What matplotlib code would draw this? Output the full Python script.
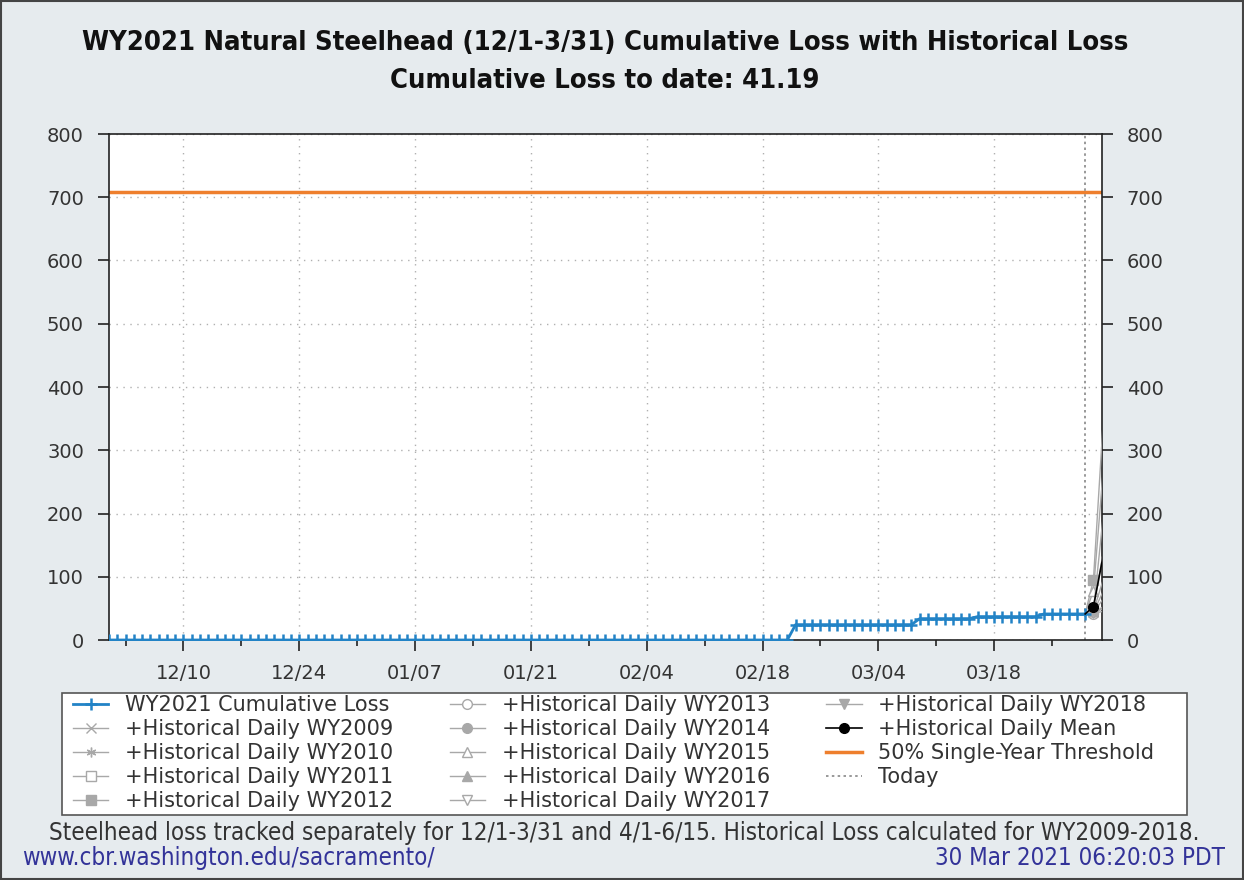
import numpy as np
import pandas as pd
import matplotlib
matplotlib.use('Agg')
import matplotlib.pyplot as plt
import matplotlib.dates as mdates

# WY2021 cumulative loss, daily 12/1 - 3/29
dates = pd.date_range('2020-12-01', '2021-03-29')
loss_2021 = [0, 0, 0, 0, 0, 0, 0, 0, 0, 0,
             0, 0, 0, 0, 0, 0, 0, 0, 0, 0,
             0, 0, 0, 0, 0, 0, 0, 0, 0, 0,
             0, 0, 0, 0, 0, 0, 0, 0, 0, 0,
             0, 0, 0, 0, 0, 0, 0, 0, 0, 0,
             0, 0, 0, 0, 0, 0, 0, 0, 0, 0,
             0, 0, 0, 0, 0, 0, 0, 0, 0, 0,
             0, 0, 0, 0, 0, 0, 0, 0, 0, 0,
             0, 0, 0,
             24.3, 24.3, 24.3, 24.3, 24.3, 24.3, 24.3, 24.3, 24.3, 24.3,
             24.3, 24.3, 24.3, 24.3, 24.3,
             33.8, 33.8, 33.8, 33.8, 33.8, 33.8, 33.8,
             37.0, 37.0, 37.0, 37.0, 37.0, 37.0, 37.0, 37.0,
             41.19, 41.19, 41.19, 41.19, 41.19, 41.19]

# cumulative loss to date + historical daily loss (runs past the right edge)
hist_dates = pd.to_datetime(['2021-03-29', '2021-03-30', '2021-04-01'])
hist_years = ['2009', '2010', '2011', '2012', '2013', '2014', '2015', '2016', '2017', '2018']
hist_markers = ['x', (6, 2, 0), 's', 's', 'o', 'o', '^', '^', 'v', 'v']
hist_filled = [True, True, False, True, False, True, False, True, False, True]
hist_values = [
    [41.19, 44.0, 100.0],
    [41.19, 42.5, 55.0],
    [41.19, 49.0, 200.0],
    [41.19, 95.0, 520.0],
    [41.19, 41.8, 48.0],
    [41.19, 43.5, 80.0],
    [41.19, 78.0, 400.0],
    [41.19, 45.5, 130.0],
    [41.19, 42.3, 60.0],
    [41.19, 46.0, 300.0],
]
hist_mean = [41.19, 52.8, 189.3]

threshold = 708
today = pd.Timestamp('2021-03-29')

bg = '#e6ebee'
gray = '#a8a8a8'
blue = '#2283c6'
orange = '#ee7f2d'
txt = '#333333'

fig = plt.figure(figsize=(12.44, 8.8), dpi=100, facecolor=bg)
ax = fig.add_axes([109 / 1244, 1 - 640 / 880, (1101.7 - 109) / 1244, (640 - 134) / 880])
ax.set_facecolor('white')

handles = []
h, = ax.plot(dates, loss_2021, color=blue, marker='+', markersize=9, markeredgewidth=1.8,
             linewidth=2, label='WY2021 Cumulative Loss', zorder=4)
handles.append(h)
for yr, mk, filled, vals in zip(hist_years, hist_markers, hist_filled, hist_values):
    h, = ax.plot(hist_dates, vals, color=gray, marker=mk, markersize=7, linewidth=1,
                 markerfacecolor=gray if filled else 'white', markeredgecolor=gray,
                 markevery=[1], label='+Historical Daily WY' + yr, zorder=3)
    handles.append(h)
h, = ax.plot(hist_dates, hist_mean, color='black', marker='o', markersize=7, linewidth=1.2,
             markevery=[1], label='+Historical Daily Mean', zorder=5)
handles.append(h)
h = ax.axhline(threshold, color=orange, linewidth=2.5, label='50% Single-Year Threshold', zorder=2)
handles.append(h)
h = ax.axvline(today, color='#888888', linestyle=(0, (1.5, 2)), linewidth=1.2, label='Today', zorder=2)
handles.append(h)

ax.set_xlim(pd.Timestamp('2020-12-01'), pd.Timestamp('2021-03-31'))
ax.set_ylim(0, 800)
ax.set_yticks(np.arange(0, 801, 100))
major = pd.date_range('2020-12-10', '2021-03-31', freq='14D')
minor = pd.date_range('2020-12-03', '2021-03-31', freq='14D')
ax.set_xticks(major)
ax.set_xticks(minor, minor=True)
ax.xaxis.set_major_formatter(mdates.DateFormatter('%m/%d'))
ax.tick_params(axis='both', which='major', direction='out', length=8, width=1.2,
               labelsize=14, labelcolor=txt, color='#222222')
ax.tick_params(axis='x', which='minor', direction='out', length=4, width=1.2, color='#222222')
ax.tick_params(axis='y', right=True, labelright=True, pad=10)
ax.tick_params(axis='x', pad=9)
ax.grid(True, which='major', linestyle=(0, (1, 4)), color='#b0b0b0', linewidth=1)
for s in ax.spines.values():
    s.set_color('#222222')
    s.set_linewidth(1.2)

fig.text(605 / 1244, 1 - 43 / 880, 'WY2021 Natural Steelhead (12/1-3/31) Cumulative Loss with Historical Loss',
         ha='center', va='center', fontsize=19.6, fontweight='bold', fontstretch='condensed', color='#111111')
fig.text(605 / 1244, 1 - 81 / 880, 'Cumulative Loss to date: 41.19',
         ha='center', va='center', fontsize=19.6, fontweight='bold', fontstretch='condensed', color='#111111')

# legend box drawn separately so the padding can differ per side
box = plt.Rectangle((62 / 1244, 1 - 815 / 880), (1187 - 62) / 1244, (815 - 693) / 880,
                    transform=fig.transFigure, facecolor='white', edgecolor='#555555', linewidth=1.2)
fig.patches.append(box)
leg = fig.legend(handles=handles, ncol=3, loc='upper left',
                 bbox_to_anchor=(73 / 1244, 1 - 695 / 880),
                 fontsize=15, frameon=False, handlelength=1.7, handletextpad=0.8,
                 labelspacing=0.19, columnspacing=2.7, borderaxespad=0, borderpad=0)
for t in leg.get_texts():
    t.set_color(txt)

fig.text(624 / 1244, 1 - 833 / 880,
         'Steelhead loss tracked separately for 12/1-3/31 and 4/1-6/15. Historical Loss calculated for WY2009-2018.',
         ha='center', va='center', fontsize=17.3, fontstretch='condensed', color=txt)
fig.text(22 / 1244, 1 - 858 / 880, 'www.cbr.washington.edu/sacramento/',
         ha='left', va='center', fontsize=17.3, fontstretch='condensed', color='#333399')
fig.text(1225 / 1244, 1 - 858 / 880, '30 Mar 2021 06:20:03 PDT',
         ha='right', va='center', fontsize=17.3, fontstretch='condensed', color='#333399')

border = plt.Rectangle((0.001, 0.001), 0.998, 0.998, transform=fig.transFigure,
                       fill=False, edgecolor='#444444', linewidth=1.5)
fig.patches.append(border)

fig.savefig('out.png', dpi=100, facecolor=bg)
